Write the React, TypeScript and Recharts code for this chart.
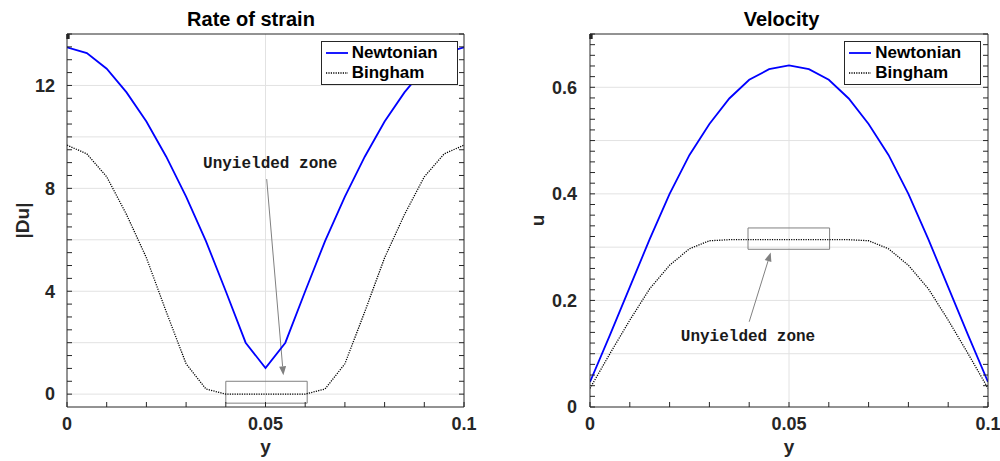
import React from "react";
import {
  LineChart,
  Line,
  XAxis,
  YAxis,
  CartesianGrid,
  Legend,
  ReferenceLine,
  ReferenceArea,
  ReferenceDot,
  Label,
} from "recharts";

// positions across the channel
const yPos = [
  0, 0.005, 0.01, 0.015, 0.02, 0.025, 0.03, 0.035, 0.04, 0.045, 0.05, 0.055,
  0.06, 0.065, 0.07, 0.075, 0.08, 0.085, 0.09, 0.095, 0.1,
];

// |Du|
const strainNewtonian = [
  13.48, 13.26, 12.65, 11.73, 10.6, 9.23, 7.68, 5.95, 4.0, 2.0, 1.01, 2.0,
  4.0, 5.95, 7.68, 9.23, 10.6, 11.73, 12.65, 13.26, 13.48,
];
const strainBingham = [
  9.68, 9.34, 8.45, 6.98, 5.3, 3.2, 1.18, 0.2, 0, 0, 0, 0, 0, 0.2, 1.18, 3.2,
  5.3, 6.98, 8.45, 9.34, 9.68,
];

// u
const velNewtonian = [
  0.047, 0.135, 0.225, 0.315, 0.4, 0.473, 0.531, 0.579, 0.614, 0.634, 0.641,
  0.634, 0.614, 0.579, 0.531, 0.473, 0.4, 0.315, 0.225, 0.135, 0.047,
];
const velBingham = [
  0.035, 0.1, 0.163, 0.222, 0.266, 0.297, 0.312, 0.314, 0.314, 0.314, 0.314,
  0.314, 0.314, 0.314, 0.312, 0.297, 0.266, 0.222, 0.163, 0.1, 0.035,
];

const xTicks = [0, 0.01, 0.02, 0.03, 0.04, 0.05, 0.06, 0.07, 0.08, 0.09, 0.1];
const xLabels = [0, 0.05, 0.1];
const strainTicks = Array.from({ length: 29 }, (_, i) => i * 0.5);
const strainLabels = [0, 4, 8, 12];
const strainGrid = [0, 2, 4, 6, 8, 10, 12];
const velTicks = Array.from({ length: 36 }, (_, i) => (i * 2) / 100);
const velLabels = [0, 0.2, 0.4, 0.6];
const velGrid = [0.1, 0.2, 0.3, 0.4, 0.5, 0.6];

const strainData = yPos.map((x, i) => ({
  x,
  newtonian: strainNewtonian[i],
  bingham: strainBingham[i],
}));
const velData = yPos.map((x, i) => ({
  x,
  newtonian: velNewtonian[i],
  bingham: velBingham[i],
}));

const FONT = '"Liberation Sans", Arial, Helvetica, sans-serif';
const MONO = '"Liberation Mono", "Courier New", monospace';
const AXIS = "#262626";
const ANNOT = "#808080";

const tickText = (labels: number[], anchor: "end" | "middle") =>
  function TickText(props: any) {
    const { x, y, payload } = props;
    const v = payload.value;
    if (!labels.some((l) => Math.abs(l - v) < 1e-9)) return <g />;
    return (
      <text
        x={x}
        y={y}
        dy="0.35em"
        textAnchor={anchor}
        fontSize={18}
        fontWeight="bold"
        fontFamily={FONT}
        fill={AXIS}
      >
        {String(v)}
      </text>
    );
  };

const noTick = () => <g />;

const yName = (text: string, offset: number) =>
  function YName(props: any) {
    const { viewBox } = props;
    const cx = viewBox.x + offset;
    const cy = viewBox.y + viewBox.height / 2;
    return (
      <text
        x={cx}
        y={cy}
        dy="0.35em"
        textAnchor="middle"
        transform={`rotate(-90, ${cx}, ${cy})`}
        fontSize={19}
        fontWeight="bold"
        fontFamily={FONT}
        fill={AXIS}
      >
        {text}
      </text>
    );
  };

const Arrow = (props: any) => {
  const { x1, y1, x2, y2 } = props;
  const ang = Math.atan2(y2 - y1, x2 - x1);
  const L = 9;
  const W = 3.5;
  const bx = x2 - L * Math.cos(ang);
  const by = y2 - L * Math.sin(ang);
  const px = -Math.sin(ang) * W;
  const py = Math.cos(ang) * W;
  return (
    <g>
      <line x1={x1} y1={y1} x2={bx} y2={by} stroke={ANNOT} strokeWidth={1} />
      <polygon
        points={`${x2},${y2} ${bx + px},${by + py} ${bx - px},${by - py}`}
        fill={ANNOT}
      />
    </g>
  );
};

const LegendBox = () => (
  <div
    style={{
      width: 137,
      height: 44,
      boxSizing: "border-box",
      border: `1px solid ${AXIS}`,
      background: "#fff",
      paddingTop: 1,
      fontFamily: FONT,
      fontWeight: "bold",
      fontSize: 17,
      color: "#000",
    }}
  >
    {[
      { name: "Newtonian", color: "#0000ff", dash: undefined, w: 1.8 },
      { name: "Bingham", color: "#000", dash: "1.2 1.2", w: 1.3 },
    ].map((it) => (
      <div
        key={it.name}
        style={{ display: "flex", alignItems: "center", height: 20.5 }}
      >
        <svg width={22} height={4} style={{ marginLeft: 4, marginRight: 4 }}>
          <line
            x1={0}
            y1={2}
            x2={22}
            y2={2}
            stroke={it.color}
            strokeWidth={it.w}
            strokeDasharray={it.dash}
          />
        </svg>
        <span style={{ lineHeight: "20px" }}>{it.name}</span>
      </div>
    ))}
  </div>
);

interface PanelProps {
  title: string;
  titleX: number;
  data: { x: number; newtonian: number; bingham: number }[];
  yDomain: [number, number];
  yTicks: number[];
  yLabels: number[];
  yGrid: number[];
  yTitle: string;
  yTitleOffset: number;
  yTickMargin: number;
  margin: { top: number; right: number; left: number; bottom: number };
  legendLeft: number;
  children?: React.ReactNode;
}

const Panel = ({
  title,
  titleX,
  data,
  yDomain,
  yTicks,
  yLabels,
  yGrid,
  yTitle,
  yTitleOffset,
  yTickMargin,
  margin,
  legendLeft,
  children,
}: PanelProps) => (
  <div style={{ position: "relative", width: 500, height: 461 }}>
    <div
      style={{
        position: "absolute",
        left: titleX - 120,
        width: 240,
        top: 9,
        textAlign: "center",
        fontFamily: FONT,
        fontWeight: "bold",
        fontSize: 20,
        lineHeight: "20px",
        color: "#000",
        zIndex: 2,
      }}
    >
      {title}
    </div>
    <LineChart width={500} height={461} data={data} margin={margin}>
      <CartesianGrid
        stroke="#e2e2e2"
        horizontalValues={yGrid}
        verticalValues={[0.05]}
      />
      <XAxis
        dataKey="x"
        type="number"
        domain={[0, 0.1]}
        ticks={xTicks}
        interval={0}
        allowDataOverflow
        height={50}
        tickSize={-5}
        tickMargin={22}
        tick={tickText(xLabels, "middle")}
        stroke={AXIS}
        tickLine={{ stroke: AXIS }}
      >
        <Label
          value="y"
          position="insideBottom"
          offset={4}
          fontSize={19}
          fontWeight="bold"
          fontFamily={FONT}
          fill={AXIS}
        />
      </XAxis>
      <XAxis
        xAxisId="top"
        orientation="top"
        type="number"
        domain={[0, 0.1]}
        ticks={xTicks}
        interval={0}
        allowDataOverflow
        height={1}
        tickSize={-5}
        tick={noTick}
        stroke={AXIS}
        tickLine={{ stroke: AXIS }}
      />
      <YAxis
        type="number"
        domain={yDomain}
        ticks={yTicks}
        interval={0}
        allowDataOverflow
        width={60}
        tickSize={-5}
        tickMargin={yTickMargin}
        tick={tickText(yLabels, "end")}
        stroke={AXIS}
        tickLine={{ stroke: AXIS }}
      >
        <Label content={yName(yTitle, yTitleOffset)} />
      </YAxis>
      <YAxis
        yAxisId="right"
        orientation="right"
        type="number"
        domain={yDomain}
        ticks={yTicks}
        interval={0}
        allowDataOverflow
        width={1}
        tickSize={-5}
        tick={noTick}
        stroke={AXIS}
        tickLine={{ stroke: AXIS }}
      />
      {children}
      <Line
        type="linear"
        dataKey="newtonian"
        stroke="#0000ff"
        strokeWidth={1.8}
        dot={false}
        isAnimationActive={false}
      />
      <Line
        type="linear"
        dataKey="bingham"
        stroke="#000"
        strokeWidth={1.3}
        strokeDasharray="1.2 1.2"
        dot={false}
        isAnimationActive={false}
      />
      <Legend
        layout="horizontal"
        verticalAlign="middle"
        align="center"
        content={() => <LegendBox />}
        wrapperStyle={{ top: 40.7, left: legendLeft, width: 137, height: 44 }}
      />
    </LineChart>
  </div>
);

const annotText = {
  position: "center" as const,
  fontSize: 16,
  fontWeight: "bold",
  fontFamily: MONO,
  fill: "#1a1a1a",
};

export default function App() {
  return (
    <div
      style={{
        position: "absolute",
        left: 0,
        top: 0,
        width: 1000,
        height: 461,
        background: "#fff",
        display: "flex",
        fontFamily: FONT,
      }}
    >
      <Panel
        title="Rate of strain"
        titleX={251}
        data={strainData}
        yDomain={[-0.5, 14]}
        yTicks={strainTicks}
        yLabels={strainLabels}
        yGrid={strainGrid}
        yTitle="|Du|"
        yTitleOffset={15}
        yTickMargin={17}
        margin={{ top: 33, right: 35, left: 7, bottom: 4 }}
        legendLeft={320.7}
      >
        <ReferenceArea
          x1={0.04}
          x2={0.0605}
          y1={-0.35}
          y2={0.5}
          fill="none"
          stroke={ANNOT}
          strokeWidth={1}
          ifOverflow="visible"
        />
        <ReferenceLine
          segment={[
            { x: 0.0503, y: 8.36 },
            { x: 0.0545, y: 0.73 },
          ]}
          shape={Arrow}
          ifOverflow="visible"
        />
        <ReferenceDot
          x={0.0512}
          y={9.03}
          r={0}
          fill="none"
          stroke="none"
          ifOverflow="visible"
          label={{ value: "Unyielded zone", ...annotText }}
        />
      </Panel>
      <Panel
        title="Velocity"
        titleX={281.5}
        data={velData}
        yDomain={[0, 0.7]}
        yTicks={velTicks}
        yLabels={velLabels}
        yGrid={velGrid}
        yTitle="u"
        yTitleOffset={7.5}
        yTickMargin={18}
        margin={{ top: 33, right: 11, left: 30, bottom: 4 }}
        legendLeft={344.3}
      >
        <ReferenceArea
          x1={0.0397}
          x2={0.0602}
          y1={0.296}
          y2={0.336}
          fill="none"
          stroke={ANNOT}
          strokeWidth={1}
          ifOverflow="visible"
        />
        <ReferenceLine
          segment={[
            { x: 0.04, y: 0.16 },
            { x: 0.0454, y: 0.29 },
          ]}
          shape={Arrow}
          ifOverflow="visible"
        />
        <ReferenceDot
          x={0.0397}
          y={0.1347}
          r={0}
          fill="none"
          stroke="none"
          ifOverflow="visible"
          label={{ value: "Unyielded zone", ...annotText }}
        />
      </Panel>
    </div>
  );
}
